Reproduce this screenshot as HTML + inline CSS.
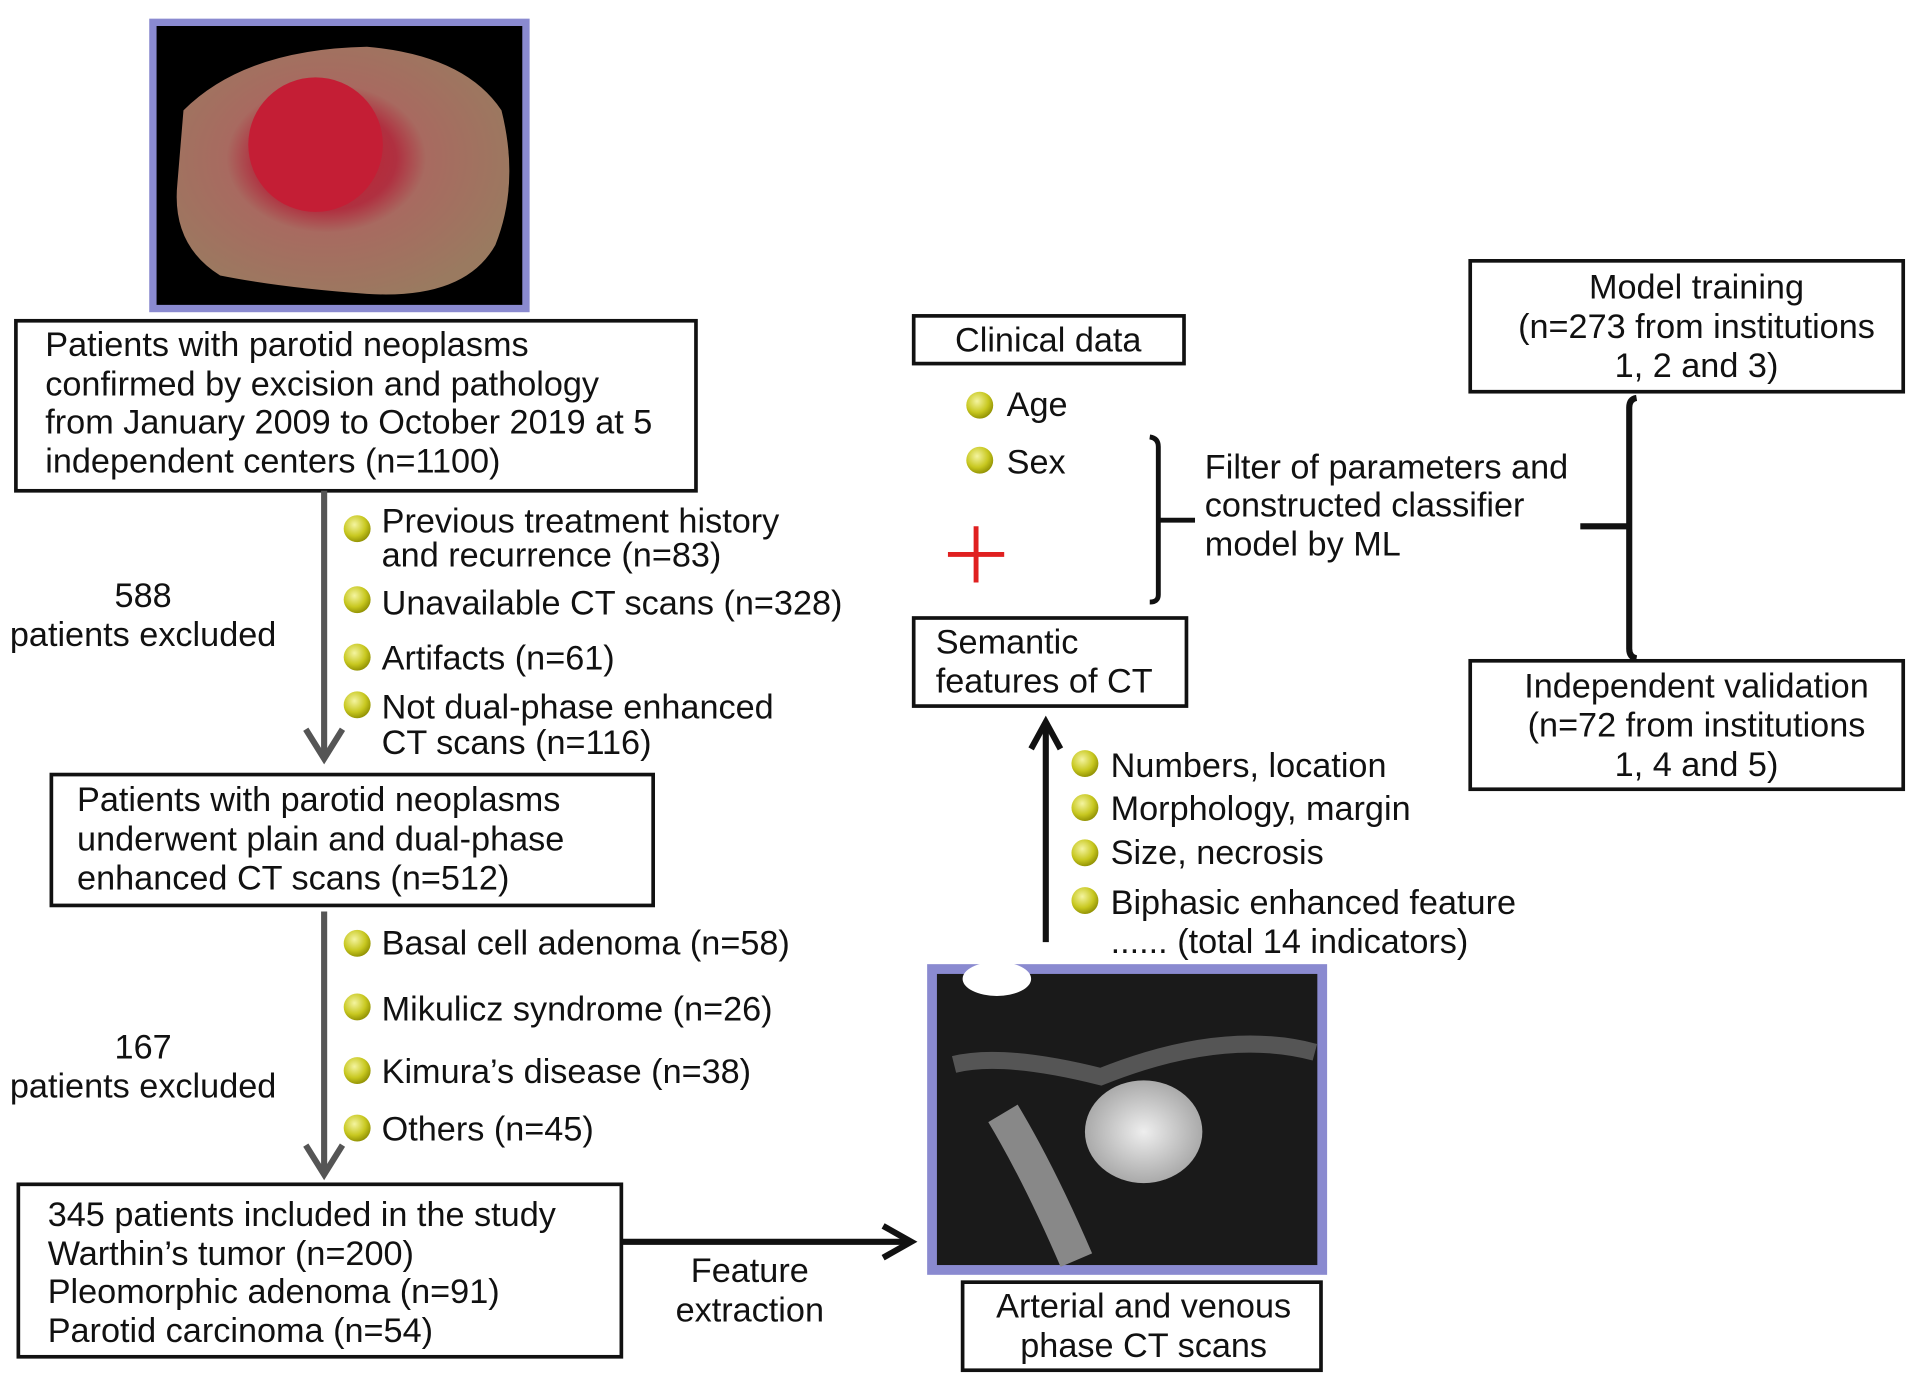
<!DOCTYPE html>
<html><head><meta charset="utf-8"><style>
html,body{margin:0;padding:0;background:#fff;}
svg{display:block;}
text{font-family:"Liberation Sans",Arial,sans-serif;font-size:28px;fill:#111;}
</style></head><body>
<svg width="1913" height="1384" viewBox="0 0 1564 1131" xmlns="http://www.w3.org/2000/svg">
<defs>
<radialGradient id="b" cx="0.4" cy="0.35" r="0.7"><stop offset="0" stop-color="#f4f4a0"/><stop offset="0.6" stop-color="#c8c820"/><stop offset="1" stop-color="#8a8a00"/></radialGradient>
<radialGradient id="t" cx="0.45" cy="0.45" r="0.6"><stop offset="0" stop-color="#c02030"/><stop offset="0.35" stop-color="#b03040"/><stop offset="0.5" stop-color="#a86a60"/><stop offset="1" stop-color="#9a7a60"/></radialGradient>
<radialGradient id="ct" cx="0.5" cy="0.5" r="0.5"><stop offset="0" stop-color="#eee"/><stop offset="1" stop-color="#aaa"/></radialGradient>
</defs>
<rect x="122" y="15" width="311" height="240" fill="#8a8ad0"/>
<rect x="128" y="21" width="299" height="228" fill="#000"/>
<path d="M150 90 Q200 40 300 38 Q380 45 410 90 Q425 150 405 200 Q380 245 300 240 Q230 235 180 225 Q140 200 145 150 Z" fill="url(#t)"/>
<ellipse cx="258" cy="118" rx="55" ry="55" fill="#c41e35"/>
<rect x="13" y="262" width="556" height="139" fill="none" stroke="#111" stroke-width="3"/>
<text x="37" y="291">Patients with parotid neoplasms</text>
<text x="37" y="323">confirmed by excision and pathology</text>
<text x="37" y="354">from January 2009 to October 2019 at 5</text>
<text x="37" y="386">independent centers (n=1100)</text>
<line x1="265" y1="401" x2="265" y2="618" stroke="#555" stroke-width="5"/>
<polyline points="250,596 265,620 280,596" fill="none" stroke="#555" stroke-width="5"/>
<text x="117" y="496" text-anchor="middle">588</text>
<text x="117" y="528" text-anchor="middle">patients excluded</text>
<circle cx="292" cy="432" r="11" fill="url(#b)"/><text x="312" y="435">Previous treatment history</text><text x="312" y="463">and recurrence (n=83)</text>
<circle cx="292" cy="490" r="11" fill="url(#b)"/><text x="312" y="502">Unavailable CT scans (n=328)</text>
<circle cx="292" cy="537" r="11" fill="url(#b)"/><text x="312" y="547">Artifacts (n=61)</text>
<circle cx="292" cy="576" r="11" fill="url(#b)"/><text x="312" y="587">Not dual-phase enhanced</text><text x="312" y="616">CT scans (n=116)</text>
<rect x="42" y="633" width="492" height="107" fill="none" stroke="#111" stroke-width="3"/>
<text x="63" y="663">Patients with parotid neoplasms</text>
<text x="63" y="695">underwent plain and dual-phase</text>
<text x="63" y="727">enhanced CT scans (n=512)</text>
<line x1="265" y1="745" x2="265" y2="958" stroke="#555" stroke-width="5"/>
<polyline points="250,936 265,960 280,936" fill="none" stroke="#555" stroke-width="5"/>
<text x="117" y="865" text-anchor="middle">167</text>
<text x="117" y="897" text-anchor="middle">patients excluded</text>
<circle cx="292" cy="771" r="11" fill="url(#b)"/><text x="312" y="780">Basal cell adenoma (n=58)</text>
<circle cx="292" cy="823" r="11" fill="url(#b)"/><text x="312" y="834">Mikulicz syndrome (n=26)</text>
<circle cx="292" cy="875" r="11" fill="url(#b)"/><text x="312" y="885">Kimura’s disease (n=38)</text>
<circle cx="292" cy="922" r="11" fill="url(#b)"/><text x="312" y="932">Others (n=45)</text>
<rect x="15" y="968" width="493" height="141" fill="none" stroke="#111" stroke-width="3"/>
<text x="39" y="1002">345 patients included in the study</text>
<text x="39" y="1034">Warthin’s tumor (n=200)</text>
<text x="39" y="1065">Pleomorphic adenoma (n=91)</text>
<text x="39" y="1097">Parotid carcinoma (n=54)</text>
<line x1="508" y1="1015" x2="743" y2="1015" stroke="#111" stroke-width="5"/>
<polyline points="722,1002 745,1015 722,1028" fill="none" stroke="#111" stroke-width="5"/>
<text x="613" y="1048" text-anchor="middle">Feature</text>
<text x="613" y="1080" text-anchor="middle">extraction</text>
<rect x="758" y="788" width="327" height="254" fill="#8a8ad0"/>
<rect x="766" y="796" width="311" height="238" fill="#1a1a1a"/>
<ellipse cx="815" cy="800" rx="28" ry="14" fill="#fff"/>
<path d="M780 870 Q820 860 900 880 Q1000 840 1075 860" stroke="#555" stroke-width="14" fill="none"/>
<path d="M820 910 Q850 960 880 1030" stroke="#888" stroke-width="28" fill="none"/>
<ellipse cx="935" cy="925" rx="48" ry="42" fill="url(#ct)"/>
<rect x="787" y="1048" width="293" height="72" fill="none" stroke="#111" stroke-width="3"/>
<text x="935" y="1077" text-anchor="middle">Arterial and venous</text>
<text x="935" y="1109" text-anchor="middle">phase CT scans</text>
<line x1="855" y1="770" x2="855" y2="592" stroke="#111" stroke-width="5"/>
<polyline points="843,612 855,590 867,612" fill="none" stroke="#111" stroke-width="5"/>
<circle cx="887" cy="624" r="11" fill="url(#b)"/><text x="908" y="635">Numbers, location</text>
<circle cx="887" cy="660" r="11" fill="url(#b)"/><text x="908" y="670">Morphology, margin</text>
<circle cx="887" cy="697" r="11" fill="url(#b)"/><text x="908" y="706">Size, necrosis</text>
<circle cx="887" cy="736" r="11" fill="url(#b)"/><text x="908" y="747">Biphasic enhanced feature</text>
<text x="908" y="779">...... (total 14 indicators)</text>
<rect x="747" y="505" width="223" height="72" fill="none" stroke="#111" stroke-width="3"/>
<text x="765" y="534">Semantic</text>
<text x="765" y="566">features of CT</text>
<rect x="747" y="258" width="221" height="39" fill="none" stroke="#111" stroke-width="3"/>
<text x="857" y="287" text-anchor="middle">Clinical data</text>
<circle cx="801" cy="331" r="11" fill="url(#b)"/><text x="823" y="340">Age</text>
<circle cx="801" cy="376" r="11" fill="url(#b)"/><text x="823" y="387">Sex</text>
<line x1="798" y1="430" x2="798" y2="476" stroke="#e02020" stroke-width="4"/>
<line x1="775" y1="453" x2="821" y2="453" stroke="#e02020" stroke-width="4"/>
<path d="M940 357 Q947 358 947 365 L947 486 Q947 492 940 492" fill="none" stroke="#111" stroke-width="4"/>
<line x1="947" y1="425" x2="977" y2="425" stroke="#111" stroke-width="4"/>
<text x="985" y="391">Filter of parameters and</text>
<text x="985" y="422">constructed classifier</text>
<text x="985" y="454">model by ML</text>
<rect x="1202" y="213" width="354" height="107" fill="none" stroke="#111" stroke-width="3"/>
<text x="1387" y="244" text-anchor="middle">Model training</text>
<text x="1387" y="276" text-anchor="middle">(n=273 from institutions</text>
<text x="1387" y="308" text-anchor="middle">1, 2 and 3)</text>
<rect x="1202" y="540" width="354" height="105" fill="none" stroke="#111" stroke-width="3"/>
<text x="1387" y="570" text-anchor="middle">Independent validation</text>
<text x="1387" y="602" text-anchor="middle">(n=72 from institutions</text>
<text x="1387" y="634" text-anchor="middle">1, 4 and 5)</text>
<path d="M1338 325 Q1332 326 1332 333 L1332 530 Q1332 537 1338 538" fill="none" stroke="#111" stroke-width="5"/>
<line x1="1292" y1="430" x2="1332" y2="430" stroke="#111" stroke-width="5"/>
</svg>
</body></html>
